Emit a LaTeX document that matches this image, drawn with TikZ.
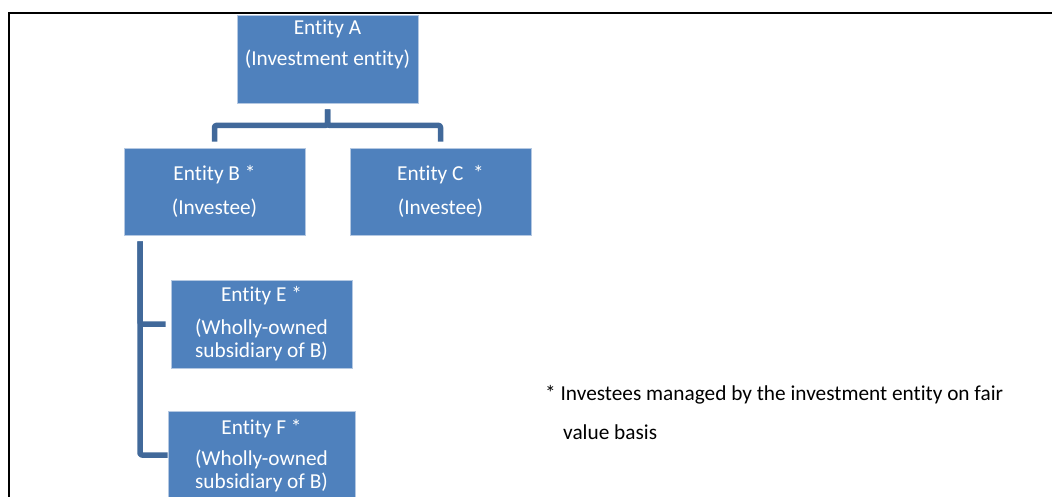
\documentclass[tikz,border=0pt]{standalone}
\usepackage{fontspec}
\setmainfont{Carlito}[Ligatures=NoCommon]
\usepackage{tikz}
\definecolor{EntFill}{HTML}{4F81BD}
\definecolor{EntEdge}{HTML}{B4C8E2}
\definecolor{LinkBlue}{HTML}{41699A}

\begin{document}
\begin{tikzpicture}[x=1pt, y=-1pt,
      every node/.append style={font=\fontsize{21.3}{23}\selectfont},
      entity/.style={fill=EntFill, draw=EntEdge, line width=0.8pt, text=white,
                     align=center, inner sep=0pt, minimum width=181pt, minimum height=88pt},
      link/.style={draw=LinkBlue, line width=5.5pt, line join=round, rounded corners=2pt}]
	  \useasboundingbox (0,0) rectangle (1052,497);
	  % frame
	  \draw[line width=1.6pt] (1060,13) -- (9,13) -- (9,505);
	  % entities
	  \node (ent_A) [entity] at (327.5,59) {Entity A\\[8pt](Investment entity)\\[10pt]\mbox{}};
	  \node (ent_B) [entity, minimum height=87pt] at (214.5,191.5) {Entity B *\\[11pt](Investee)};
	  \node (ent_C) [entity, minimum height=87pt] at (440.5,191.5) {Entity C \ *\\[11pt](Investee)};
	  \node (ent_E) [entity] at (261.5,324) {Entity E *\\[10pt](Wholly-owned\\subsidiary of B)};
	  \node (ent_F) [entity, minimum width=187pt, minimum height=90pt] at (261.5,456) {Entity F *\\[8pt](Wholly-owned\\subsidiary of B)};
	  % connectors
	  \draw[link, shorten <=6pt, shorten >=6pt] (ent_A.south) -- ++(0,22) -| (ent_B.north);
	  \draw[link, shorten <=6pt, shorten >=6pt] (ent_A.south) -- ++(0,22) -| (ent_C.north);
	  \draw[link, shorten <=6pt, shorten >=5pt] ([xshift=-74.5pt]ent_B.south) |- (ent_E.west);
	  \draw[link, shorten <=6pt] ([xshift=-74.5pt]ent_B.south) |- ([yshift=1pt]ent_F.west);
	  % note
	  \node (note) [anchor=north west, align=left, inner sep=0pt] at (545,385)
	    {* Investees managed by the investment entity on fair\\[16pt]\hspace*{18pt}value basis};
	\end{tikzpicture}
\end{document}
